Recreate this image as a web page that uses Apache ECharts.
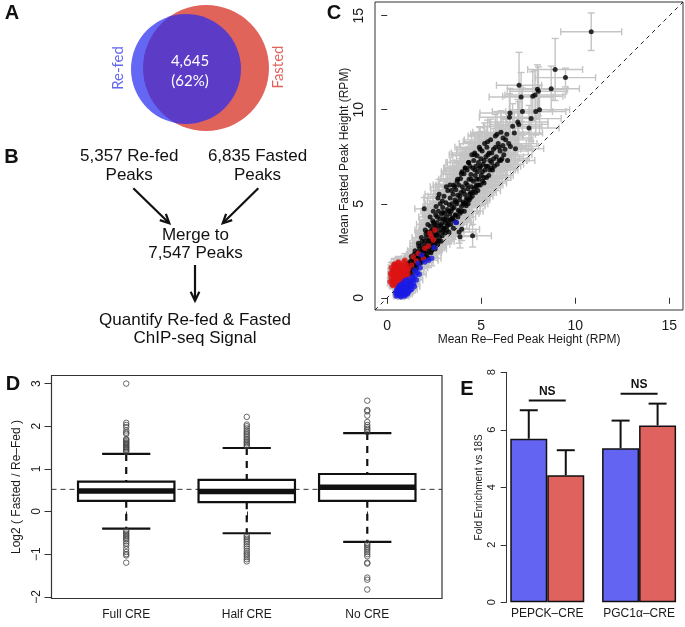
<!DOCTYPE html>
<html><head><meta charset="utf-8">
<script src="https://cdn.jsdelivr.net/npm/echarts@6/dist/echarts.min.js"></script>
<style>html,body{margin:0;padding:0;background:#fff}#c{width:685px;height:627px}</style>
</head><body><div id="c"></div>
<script>
const FONT = '"Liberation Sans", Arial, sans-serif';
const TXT = '#1a1a1a';

// ---- Panel A: Venn ----
const vennSets = ['Re-fed', 'Fasted'];
const vennOverlap = '4,645';
const vennOverlapPct = '(62%)';

// ---- Panel B: flow ----
const flowRefed = '5,357 Re-fed\nPeaks';
const flowFasted = '6,835 Fasted\nPeaks';
const flowMerge = 'Merge to\n7,547 Peaks';
const flowQuant = 'Quantify Re-fed & Fasted\nChIP-seq Signal';

// ---- Panel C: scatter [x, y, xErr, yErr] ----
const blackPts = [
[1.05,1.55,0.25,0.3],[1.15,1.3,0.3,0.25],[1.2,1.75,0.3,0.35],[1.3,1.5,0.35,0.3],[1.35,2.0,0.3,0.4],[1.4,1.65,0.4,0.3],[1.45,1.9,0.35,0.35],[1.5,2.2,0.4,0.4],[1.5,1.45,0.3,0.3],
[1.55,2.05,0.4,0.35],[1.6,2.4,0.45,0.45],[1.62,1.8,0.4,0.3],[1.7,2.25,0.45,0.4],[1.72,2.6,0.5,0.45],[1.75,2.0,0.4,0.35],[1.8,2.45,0.5,0.4],[1.85,2.8,0.5,0.5],[1.88,2.15,0.45,0.35],[1.9,2.6,0.5,0.45],[1.95,2.35,0.5,0.4],[1.97,4.73,0.5,0.6],[2.0,3.0,0.55,0.5],[2.0,2.7,0.5,0.45],
[2.05,2.5,0.5,0.45],[2.08,3.2,0.55,0.55],[2.1,2.85,0.55,0.5],[2.12,2.3,0.5,0.4],[2.15,3.5,0.6,0.6],[2.2,3.05,0.55,0.5],[2.22,2.65,0.55,0.45],[2.25,3.35,0.6,0.55],[2.3,2.9,0.6,0.5],[2.3,3.8,0.6,0.6],[2.35,3.15,0.6,0.55],[2.38,2.55,0.55,0.45],[2.4,3.6,0.65,0.6],[2.42,4.1,0.7,0.65],[2.45,3.0,0.6,0.5],[2.48,3.4,0.65,0.55],[2.5,2.8,0.6,0.5],
[2.52,3.9,0.7,0.6],[2.55,3.3,0.65,0.55],[2.58,4.4,0.7,0.7],[2.6,3.65,0.7,0.6],[2.62,3.05,0.65,0.5],[2.65,4.0,0.7,0.65],[2.7,3.45,0.7,0.55],[2.7,5.3,0.75,0.75],[2.72,4.6,0.75,0.7],[2.75,3.8,0.7,0.6],[2.78,3.2,0.7,0.55],[2.8,4.2,0.75,0.65],[2.82,5.0,0.8,0.75],[2.85,3.6,0.75,0.6],[2.88,4.45,0.8,0.7],[2.9,3.95,0.75,0.65],[2.92,3.3,0.7,0.55],[2.95,4.8,0.8,0.75],[2.98,4.2,0.8,0.65],
[3.0,3.7,0.8,0.6],[3.02,5.4,0.85,0.8],[3.05,4.5,0.8,0.7],[3.08,3.45,0.75,0.55],[3.1,4.0,0.8,0.65],[3.12,5.05,0.85,0.75],[3.15,4.3,0.85,0.7],[3.18,3.8,0.8,0.6],[3.2,4.7,0.85,0.75],[3.22,5.7,0.9,0.85],[3.25,4.1,0.85,0.65],[3.28,3.5,0.8,0.6],[3.3,4.95,0.9,0.75],[3.32,4.45,0.9,0.7],[3.35,5.3,0.9,0.8],[3.38,3.9,0.85,0.65],[3.4,4.6,0.9,0.7],[3.42,5.7,0.95,0.9],[3.45,5.0,0.9,0.75],[3.48,4.25,0.9,0.7],[3.5,5.5,0.95,0.8],
[3.52,3.7,0.85,0.6],[3.55,4.8,0.95,0.75],[3.58,5.9,1.0,0.9],[3.6,5.2,0.95,0.8],[3.62,4.4,0.95,0.7],[3.65,5.75,1.0,0.85],[3.68,4.0,0.9,0.65],[3.7,5.0,1.0,0.75],[3.72,6.2,1.0,0.95],[3.75,5.45,1.0,0.8],[3.78,4.65,1.0,0.7],[3.8,6.0,1.05,0.9],[3.82,3.5,0.9,0.6],[3.85,5.2,1.0,0.8],[3.87,3.25,0.9,0.6],[3.88,4.5,1.0,0.7],[3.9,6.35,1.05,0.9],[3.92,5.6,1.05,0.85],[3.95,4.85,1.0,0.75],[3.96,3.64,0.95,0.6],[3.98,6.7,1.1,1.0],
[4.0,5.9,1.05,0.85],[4.05,5.1,1.05,0.8],[4.08,6.6,1.1,0.95],[4.1,4.6,1.0,0.7],[4.12,5.5,1.1,0.8],[4.15,6.9,1.15,1.0],[4.18,6.1,1.1,0.9],[4.2,4.9,1.0,0.7],[4.22,5.3,1.1,0.8],[4.25,6.8,1.15,0.95],[4.28,5.8,1.1,0.85],[4.3,5.0,1.05,0.75],[4.32,7.2,1.2,1.05],[4.35,6.3,1.15,0.9],[4.38,5.5,1.1,0.85],[4.4,7.0,1.2,1.0],[4.42,5.3,1.05,0.7],[4.45,6.55,1.15,0.95],[4.48,5.9,1.15,0.85],[4.5,7.6,1.2,1.05],
[4.52,5.4,1.1,0.8],[4.54,3.3,1.0,0.6],[4.55,6.9,1.2,1.0],[4.58,6.2,1.2,0.9],[4.6,7.3,1.25,1.0],[4.62,5.8,1.15,0.85],[4.65,7.7,1.25,1.05],[4.68,6.5,1.2,0.95],[4.7,5.6,1.1,0.75],[4.72,7.0,1.25,1.0],[4.75,6.0,1.2,0.9],[4.78,7.55,1.3,1.05],[4.8,6.7,1.25,0.95],[4.82,5.7,1.2,0.8],[4.85,7.2,1.3,1.0],[4.88,6.3,1.25,0.9],[4.9,8.0,1.3,1.1],[4.92,6.9,1.3,0.95],[4.95,6.0,1.2,0.85],[4.98,7.4,1.3,1.0],
[5.0,6.5,1.3,0.95],[5.05,7.8,1.35,1.05],[5.08,6.2,1.25,0.9],[5.1,7.1,1.35,1.0],[5.15,6.1,1.2,0.8],[5.18,8.2,1.35,1.1],[5.2,6.8,1.35,0.95],[5.25,7.5,1.35,1.05],[5.28,6.4,1.3,0.9],[5.3,8.0,1.4,1.1],[5.35,7.0,1.35,1.0],[5.4,6.5,1.3,0.85],[5.42,7.7,1.4,1.05],[5.45,6.8,1.35,0.95],[5.5,8.4,1.4,1.1],
[5.55,7.2,1.4,1.0],[5.6,6.8,1.35,0.9],[5.65,7.9,1.45,1.1],[5.7,7.0,1.4,1.0],[5.75,8.6,1.45,1.15],[5.8,7.5,1.45,1.05],[5.85,7.1,1.4,0.95],[5.9,8.2,1.5,1.1],[5.95,7.3,1.45,1.0],[6.0,7.8,1.5,1.1],[6.05,8.8,1.5,1.15],[6.1,7.4,1.45,1.0],[6.15,8.1,1.5,1.1],[6.2,7.6,1.5,1.05],
[1.1,1.7,0.3,0.35],[1.25,1.95,0.35,0.35],[1.32,1.25,0.3,0.3],[1.42,2.3,0.4,0.4],[1.58,1.6,0.4,0.3],[1.66,2.9,0.45,0.5],[1.78,1.85,0.4,0.35],[1.82,3.2,0.5,0.5],[1.92,2.0,0.45,0.35],[2.02,3.6,0.55,0.55],[2.18,2.1,0.5,0.4],[2.28,4.3,0.6,0.65],[2.33,2.4,0.55,0.4],[2.45,4.6,0.65,0.7],[2.55,2.6,0.6,0.45],[2.6,4.85,0.7,0.7],[2.68,2.85,0.65,0.5],[2.76,5.5,0.75,0.8],[2.86,3.0,0.7,0.5],[2.93,5.15,0.8,0.75],[3.04,3.7,0.75,0.55],[3.14,5.9,0.85,0.85],[3.24,3.9,0.8,0.55],[3.34,6.0,0.9,0.9],[3.44,4.2,0.85,0.6],[3.54,6.0,0.95,0.9],[3.64,4.4,0.9,0.6],[3.74,6.3,1.0,0.95],[3.84,4.6,0.95,0.65],[3.94,6.6,1.05,1.0],[4.04,5.0,1.0,0.7],[4.14,6.9,1.1,1.05],[4.24,5.2,1.05,0.7],[4.34,7.2,1.15,1.1],[4.44,5.6,1.1,0.75],[4.64,7.6,1.2,1.1],[4.74,5.9,1.15,0.8],[4.94,7.9,1.25,1.15],[5.14,6.4,1.25,0.85],[5.34,8.3,1.3,1.15],[5.54,6.9,1.3,0.9],[5.84,8.7,1.4,1.2],[6.04,7.3,1.4,0.95],[6.3,8.4,1.45,1.1],[6.4,7.3,1.45,1.05],
[1.0,1.4,0.28,0.3],[1.12,1.85,0.3,0.35],[1.22,1.45,0.32,0.3],[1.28,2.2,0.35,0.4],[1.38,1.8,0.35,0.35],[1.48,2.5,0.4,0.45],[1.52,1.75,0.38,0.32],[1.64,2.15,0.42,0.38],[1.68,2.75,0.45,0.5],[1.76,2.35,0.45,0.4],[1.84,1.95,0.42,0.35],[1.86,3.0,0.5,0.5],[1.94,2.5,0.48,0.42],[2.04,2.2,0.48,0.4],[2.06,3.4,0.55,0.55],[2.14,2.75,0.52,0.48],[2.16,3.9,0.6,0.6],[2.24,2.45,0.52,0.42],[2.26,3.05,0.58,0.52],[2.34,3.55,0.62,0.58],[2.36,2.75,0.56,0.48],[2.44,3.25,0.62,0.55],[2.46,4.0,0.66,0.62],[2.54,2.95,0.62,0.5],[2.56,3.75,0.66,0.6],[2.64,3.35,0.66,0.55],[2.66,4.3,0.7,0.68],[2.74,3.0,0.66,0.52],[2.84,3.85,0.72,0.62],[2.94,3.5,0.74,0.58],[2.96,4.55,0.78,0.7],[3.06,4.15,0.8,0.66],[3.16,3.6,0.78,0.58],[3.26,4.6,0.84,0.72],[3.36,4.15,0.84,0.66],[3.46,4.75,0.88,0.74],[3.56,4.1,0.88,0.66],[3.66,5.1,0.94,0.78],[3.76,4.3,0.94,0.68],[3.86,5.4,1.0,0.82],[3.96,4.6,0.98,0.72],[4.06,5.7,1.04,0.86],[4.16,5.0,1.04,0.76],[4.26,6.0,1.1,0.88],[4.36,5.2,1.08,0.78],[4.46,6.3,1.14,0.92],[4.56,5.6,1.12,0.82],[4.66,6.8,1.2,0.96],[4.76,6.3,1.18,0.9],[4.86,6.0,1.18,0.86],[4.96,7.0,1.26,0.98],[5.06,6.7,1.26,0.94],[5.16,7.3,1.3,1.0],[5.26,7.0,1.3,0.98],[5.36,7.6,1.34,1.04],[5.46,7.3,1.34,1.0],[5.56,7.7,1.38,1.06],[5.66,7.4,1.38,1.02],[5.76,8.0,1.42,1.1],[5.96,8.0,1.46,1.1],[6.16,8.5,1.5,1.14],[6.26,7.9,1.48,1.08],[6.36,8.7,1.52,1.16],[6.46,8.2,1.5,1.12],
[6.55,8.05,1.5,1.1],[6.82,7.93,1.5,1.1],[6.76,8.76,1.5,1.15],[6.67,9.12,1.55,1.2],[7.54,9.03,1.6,1.2],[6.94,9.35,1.6,1.2],[7.0,9.22,1.55,1.2],[7.65,9.53,1.6,1.2],[6.5,9.6,1.6,1.25],[6.53,9.83,1.6,1.3],[7.19,9.9,1.6,1.25],[7.9,9.9,1.6,1.25],[8.1,10.0,1.6,1.3],[7.12,10.68,1.7,1.3],[7.74,10.72,1.6,1.3],[7.86,10.79,1.6,1.3],[7.99,11.09,1.6,1.3],[8.04,10.98,1.5,1.3],[8.72,11.12,1.5,1.2],[7.01,11.3,1.2,1.75],[9.48,11.71,1.6,0.5],[8.93,12.14,1.46,1.65],[10.85,14.15,1.62,1.0]
];
const redPts = [
[0.25,0.9,0.15,0.2],[0.3,1.2,0.15,0.25],[0.3,0.65,0.12,0.18],[0.35,1.5,0.2,0.3],[0.38,1.0,0.15,0.2],[0.4,1.8,0.2,0.3],[0.42,0.75,0.15,0.2],[0.45,1.3,0.2,0.25],[0.48,1.6,0.2,0.3],[0.5,1.05,0.18,0.22],[0.52,0.55,0.15,0.18],[0.55,1.4,0.2,0.28],[0.58,1.85,0.22,0.3],[0.6,0.85,0.18,0.2],[0.62,1.2,0.2,0.25],[0.65,1.6,0.22,0.3],[0.68,1.0,0.2,0.22],[0.7,1.35,0.22,0.25],[0.72,0.7,0.2,0.2],[0.75,1.7,0.25,0.3],[0.78,1.15,0.22,0.25],[0.8,1.5,0.25,0.28],[0.82,0.9,0.22,0.22],[0.85,1.25,0.25,0.25],[0.88,1.9,0.28,0.32],[0.9,1.05,0.25,0.22],[0.92,1.6,0.28,0.3],[0.95,1.35,0.28,0.28],[1.0,1.15,0.3,0.25],[1.02,1.75,0.3,0.3],[1.05,1.45,0.3,0.28],[1.1,1.3,0.3,0.28],[0.2,1.1,0.15,0.22],[0.28,1.45,0.15,0.28],[0.35,1.75,0.2,0.3],[0.45,0.95,0.15,0.2],[0.55,1.1,0.18,0.22],[0.65,0.6,0.18,0.18],
[0.15,0.85,0.12,0.2],[0.18,1.3,0.14,0.25],[0.22,1.6,0.16,0.28],[0.26,0.7,0.14,0.18],[0.32,1.35,0.16,0.25],[0.36,0.85,0.15,0.2],[0.4,1.15,0.17,0.22],[0.42,1.55,0.18,0.28],[0.46,1.75,0.2,0.3],[0.5,0.75,0.16,0.2],[0.52,1.25,0.18,0.24],[0.56,1.6,0.2,0.28],[0.6,1.0,0.18,0.22],[0.62,1.45,0.2,0.26],[0.66,1.8,0.22,0.3],[0.7,1.15,0.2,0.24],[0.74,1.45,0.22,0.26],[0.76,0.95,0.2,0.22],[0.8,1.3,0.22,0.25],[0.84,1.7,0.25,0.3],[0.86,1.05,0.22,0.22],[0.9,1.45,0.25,0.27],[0.96,1.8,0.28,0.3],[0.98,1.2,0.26,0.25],[1.04,1.6,0.28,0.28],[1.08,1.15,0.28,0.25],[1.14,1.55,0.3,0.28],[0.34,1.05,0.15,0.2],[0.44,1.1,0.16,0.22],[0.54,0.9,0.16,0.2],[0.64,1.3,0.2,0.25],[0.72,1.55,0.22,0.28],[0.24,1.25,0.14,0.24],[0.38,1.65,0.18,0.28],
[0.59,1.9,0.22,0.3],[0.94,2.0,0.3,0.35],[1.3,1.74,0.35,0.3],[1.38,2.18,0.4,0.4],[1.65,2.36,0.45,0.4],[1.92,2.08,0.45,0.4],[2.0,2.63,0.5,0.45],[2.18,2.75,0.55,0.5],[2.27,3.43,0.6,0.55],[2.45,3.07,0.6,0.5],[2.54,3.6,0.65,0.6],[1.55,1.95,0.4,0.35],[2.35,3.25,0.6,0.55]
];
const bluePts = [
[0.45,0.25,0.15,0.15],[0.5,0.4,0.15,0.18],[0.55,0.15,0.15,0.12],[0.6,0.55,0.18,0.18],[0.62,0.3,0.18,0.15],[0.68,0.1,0.18,0.12],[0.7,0.45,0.2,0.18],[0.75,0.7,0.2,0.2],[0.78,0.25,0.2,0.15],[0.82,0.55,0.22,0.18],[0.85,0.15,0.2,0.12],[0.88,0.85,0.22,0.22],[0.9,0.4,0.22,0.18],[0.95,0.65,0.25,0.2],[0.98,0.2,0.22,0.15],[1.0,0.95,0.25,0.22],[1.05,0.5,0.25,0.18],[1.1,0.75,0.28,0.2],[1.12,0.3,0.25,0.15],[1.18,1.0,0.3,0.22],[1.2,0.6,0.28,0.2],[1.25,0.85,0.3,0.22],[1.3,0.45,0.3,0.18],[1.35,1.1,0.3,0.25],[1.4,0.75,0.3,0.2],[1.47,1.47,0.35,0.3],[1.5,1.2,0.35,0.25],[1.6,1.35,0.35,0.28],[1.65,1.83,0.4,0.35],[1.83,2.27,0.4,0.4],[1.75,1.6,0.4,0.3],[2.0,1.9,0.45,0.35],[2.2,2.0,0.5,0.4],[2.36,2.1,0.5,0.4],[2.5,2.68,0.55,0.45],[3.66,4.0,0.8,0.6],
[0.48,0.1,0.14,0.12],[0.52,0.3,0.15,0.15],[0.58,0.45,0.16,0.17],[0.64,0.2,0.17,0.14],[0.66,0.65,0.18,0.2],[0.72,0.35,0.19,0.16],[0.74,0.05,0.18,0.12],[0.8,0.4,0.2,0.17],[0.84,0.7,0.22,0.2],[0.86,0.3,0.21,0.16],[0.92,0.55,0.23,0.18],[0.94,0.1,0.21,0.13],[1.0,0.35,0.24,0.17],[1.02,0.75,0.25,0.2],[1.08,0.2,0.25,0.15],[1.14,0.55,0.27,0.18],[1.16,0.85,0.28,0.21],[1.22,0.4,0.27,0.17],[1.28,0.65,0.29,0.2],[1.34,0.9,0.3,0.22],[1.42,1.0,0.32,0.23],[1.44,0.6,0.3,0.2],[1.55,0.95,0.34,0.24],[1.7,1.25,0.37,0.27]
];
const scatterTicks = [0, 5, 10, 15];
const scatterMin = -0.65, scatterMax = 15.73;

// ---- Panel D: boxplots [low whisker, Q1, median, Q3, high whisker] ----
const boxCats = ['Full CRE', 'Half CRE', 'No CRE'];
const boxStats = [
  [-0.40, 0.25, 0.48, 0.70, 1.35],
  [-0.51, 0.22, 0.47, 0.74, 1.49],
  [-0.71, 0.25, 0.57, 0.88, 1.84]
];
const outFull = [1.40,1.43,1.45,1.48,1.50,1.52,1.55,1.58,1.60,1.62,1.65,1.68,1.70,1.82,1.85,1.90,1.98,2.03,2.08,3.00,
  -0.45,-0.48,-0.52,-0.55,-0.58,-0.62,-0.65,-0.70,-0.75,-0.80,-0.88,-0.95,-1.00,-1.03,-1.20];
const outHalf = [1.53,1.56,1.60,1.63,1.67,1.70,1.74,1.78,1.82,1.86,1.90,1.95,2.00,2.04,2.22,
  -0.56,-0.60,-0.64,-0.68,-0.72,-0.77,-0.82,-0.87,-0.93,-0.98,-1.02,-1.07,-1.12,-1.17];
const outNo = [1.86,1.90,1.94,1.98,2.03,2.10,2.25,2.35,2.38,2.60,
  -0.75,-0.78,-0.82,-0.86,-0.90,-0.95,-1.00,-1.05,-1.20,-1.22,-1.55,-1.60,-1.83];
const boxRef = 0.52;
const boxYTicks = [-2, -1, 0, 1, 2, 3];

// ---- Panel E: bars ----
const barCats = ['PEPCK\u2013CRE', 'PGC1\u03b1\u2013CRE'];
const refedMean = [5.69, 5.36];
const refedSE = [0.99, 0.96];
const fastedMean = [4.42, 6.15];
const fastedSE = [0.87, 0.76];
const sigLabels = ['NS', 'NS'];

// ---------------------------------------------------------------
const chart = echarts.init(document.getElementById('c'), null, {renderer: 'canvas'});
const allPts = blackPts.concat(redPts, bluePts);
const outData = [].concat(outFull.map(v => [1, v]), outHalf.map(v => [2, v]), outNo.map(v => [3, v]));
const minusFmt = v => (v < 0 ? '\u2212' + (-v) : String(v));

function renderErr(params, api) {
  const x = api.value(0), y = api.value(1), ex = api.value(2), ey = api.value(3);
  const l = api.coord([x - ex, y]), r = api.coord([x + ex, y]);
  const b = api.coord([x, y - ey]), t = api.coord([x, y + ey]);
  const c = 3.5, st = {stroke: '#c4c4c4', lineWidth: 1.4};
  return {type: 'group', children: [
    {type: 'line', shape: {x1: l[0], y1: l[1], x2: r[0], y2: r[1]}, style: st},
    {type: 'line', shape: {x1: b[0], y1: b[1], x2: t[0], y2: t[1]}, style: st},
    {type: 'line', shape: {x1: l[0], y1: l[1] - c, x2: l[0], y2: l[1] + c}, style: st},
    {type: 'line', shape: {x1: r[0], y1: r[1] - c, x2: r[0], y2: r[1] + c}, style: st},
    {type: 'line', shape: {x1: b[0] - c, y1: b[1], x2: b[0] + c, y2: b[1]}, style: st},
    {type: 'line', shape: {x1: t[0] - c, y1: t[1], x2: t[0] + c, y2: t[1]}, style: st}
  ]};
}

function renderBox(params, api) {
  const i = api.value(0);
  const lo = api.value(1), q1 = api.value(2), md = api.value(3), q3 = api.value(4), hi = api.value(5);
  const hw = api.size([0.8, 0])[0] / 2, cw = hw / 2;
  const cx = api.coord([i, 0])[0];
  const y = v => api.coord([i, v])[1];
  const k = '#111';
  const dash = {stroke: k, lineWidth: 2.2, lineDash: [7, 6]};
  const solid = {stroke: k, lineWidth: 2.2};
  return {type: 'group', children: [
    {type: 'line', shape: {x1: cx, y1: y(hi), x2: cx, y2: y(q3)}, style: dash},
    {type: 'line', shape: {x1: cx, y1: y(q1), x2: cx, y2: y(lo)}, style: dash},
    {type: 'line', shape: {x1: cx - cw, y1: y(hi), x2: cx + cw, y2: y(hi)}, style: solid},
    {type: 'line', shape: {x1: cx - cw, y1: y(lo), x2: cx + cw, y2: y(lo)}, style: solid},
    {type: 'rect', shape: {x: cx - hw, y: y(q3), width: 2 * hw, height: y(q1) - y(q3)}, style: {fill: '#fff', stroke: k, lineWidth: 2.2}},
    {type: 'line', shape: {x1: cx - hw, y1: y(md), x2: cx + hw, y2: y(md)}, style: {stroke: k, lineWidth: 5.5}}
  ]};
}

const BAR_W = 37;
function renderBarErr(params, api) {
  const i = api.value(0), m = api.value(1), se = api.value(2), side = api.value(3);
  const base = api.coord([i, m]), top = api.coord([i, m + se]);
  const x = base[0] + side * BAR_W / 2, c = 9;
  const st = {stroke: '#111', lineWidth: 2};
  return {type: 'group', children: [
    {type: 'line', shape: {x1: x, y1: base[1], x2: x, y2: top[1]}, style: st},
    {type: 'line', shape: {x1: x - c, y1: top[1], x2: x + c, y2: top[1]}, style: st}
  ]};
}
function renderSig(params, api) {
  const i = api.value(0), h = api.value(1);
  const p = api.coord([i, h]);
  return {type: 'group', children: [
    {type: 'line', shape: {x1: p[0] - BAR_W / 2, y1: p[1], x2: p[0] + BAR_W / 2, y2: p[1]}, style: {stroke: '#111', lineWidth: 2}},
    {type: 'text', style: {text: sigLabels[params.dataIndex], x: p[0], y: p[1] - 3, align: 'center', verticalAlign: 'bottom',
      fontFamily: FONT, fontWeight: 'bold', fontSize: 12, fill: '#111'}}
  ]};
}

function arrow(x1, y1, x2, y2) {
  const a = Math.atan2(y2 - y1, x2 - x1), L = 10, s = 0.45;
  const st = {stroke: '#111', lineWidth: 2.2, fill: null};
  return [
    {type: 'line', shape: {x1, y1, x2, y2}, style: st},
    {type: 'polyline', shape: {points: [[x2 - L * Math.cos(a - s), y2 - L * Math.sin(a - s)], [x2, y2],
      [x2 - L * Math.cos(a + s), y2 - L * Math.sin(a + s)]]}, style: st}
  ];
}
function letter(t, x, y) {
  return {type: 'text', x, y, style: {text: t, fontFamily: FONT, fontWeight: 'bold', fontSize: 20, fill: '#111', align: 'center', verticalAlign: 'middle'}};
}
function flowText(t, x, y) {
  return {type: 'text', x, y, style: {text: t, fontFamily: FONT, fontSize: 17, lineHeight: 18.5, fill: '#111', align: 'center', verticalAlign: 'middle'}};
}

const axisTxt = {color: TXT, fontFamily: FONT};
const option = {
  animation: false,
  backgroundColor: '#fff',
  grid: [
    {left: 375, top: 2, width: 308, height: 308, show: true, borderColor: '#333', borderWidth: 1},
    {left: 51.5, top: 375.5, width: 390.5, height: 223, show: true, borderColor: '#333', borderWidth: 1.2},
    {left: 501.35, top: 372.3, width: 190.6, height: 230}
  ],
  xAxis: [
    {gridIndex: 0, type: 'value', min: scatterMin, max: scatterMax,
      axisLine: {show: false}, splitLine: {show: false},
      axisTick: {show: true, customValues: scatterTicks, length: 6, lineStyle: {color: '#333'}},
      axisLabel: Object.assign({customValues: scatterTicks, fontSize: 14, margin: 9}, axisTxt),
      name: 'Mean Re\u2013Fed Peak Height (RPM)', nameLocation: 'middle', nameGap: 24,
      nameTextStyle: Object.assign({fontSize: 12}, axisTxt)},
    {gridIndex: 1, type: 'value', min: 0.38, max: 3.62,
      axisLine: {show: false}, splitLine: {show: false},
      axisTick: {show: true, customValues: [1, 2, 3], length: 7, lineStyle: {color: '#333'}},
      axisLabel: Object.assign({customValues: [1, 2, 3], fontSize: 12, margin: 10,
        formatter: v => boxCats[Math.round(v) - 1]}, axisTxt)},
    {gridIndex: 2, type: 'category', data: barCats,
      axisLine: {show: false}, axisTick: {show: false},
      axisLabel: Object.assign({fontSize: 12, margin: 5, interval: 0, hideOverlap: false}, axisTxt)}
  ],
  yAxis: [
    {gridIndex: 0, type: 'value', min: scatterMin, max: scatterMax,
      axisLine: {show: false}, splitLine: {show: false},
      axisTick: {show: true, customValues: scatterTicks, length: 6, lineStyle: {color: '#333'}},
      axisLabel: Object.assign({customValues: scatterTicks, fontSize: 14, margin: 9, rotate: 90}, axisTxt),
      name: 'Mean Fasted Peak Height (RPM)', nameLocation: 'middle', nameGap: 24,
      nameTextStyle: Object.assign({fontSize: 12}, axisTxt)},
    {gridIndex: 1, type: 'value', min: -2.04, max: 3.19,
      axisLine: {show: false}, splitLine: {show: false},
      axisTick: {show: true, customValues: boxYTicks, length: 7, lineStyle: {color: '#333'}},
      axisLabel: Object.assign({customValues: boxYTicks, fontSize: 12, margin: 9, rotate: 90, formatter: minusFmt}, axisTxt),
      name: 'Log2 ( Fasted / Re\u2013Fed )', nameLocation: 'middle', nameGap: 21,
      nameTextStyle: Object.assign({fontSize: 12}, axisTxt)},
    {gridIndex: 2, type: 'value', min: 0, max: 8, interval: 2, offset: -5.35,
      axisLine: {show: true, lineStyle: {color: '#333', width: 1}}, splitLine: {show: false},
      axisTick: {show: true, length: 6, lineStyle: {color: '#333'}},
      axisLabel: Object.assign({fontSize: 11, margin: 9, rotate: 90}, axisTxt),
      name: 'Fold Enrichment vs 18S', nameLocation: 'middle', nameGap: 22,
      nameTextStyle: Object.assign({fontSize: 10}, axisTxt)}
  ],
  series: [
    {type: 'custom', xAxisIndex: 0, yAxisIndex: 0, data: allPts, renderItem: renderErr, silent: true, z: 1},
    {type: 'line', xAxisIndex: 0, yAxisIndex: 0, data: [[scatterMin, scatterMin], [scatterMax, scatterMax]],
      symbol: 'none', silent: true, z: 2, lineStyle: {color: '#222', width: 1, type: [4, 4]}},
    {type: 'scatter', xAxisIndex: 0, yAxisIndex: 0, data: blackPts.map(p => [p[0], p[1]]), symbolSize: 5,
      itemStyle: {color: '#000'}, silent: true, z: 3},
    {type: 'scatter', xAxisIndex: 0, yAxisIndex: 0, data: redPts.map(p => [p[0], p[1]]), symbolSize: 5.5,
      itemStyle: {color: '#dc1414'}, silent: true, z: 4},
    {type: 'scatter', xAxisIndex: 0, yAxisIndex: 0, data: bluePts.map(p => [p[0], p[1]]), symbolSize: 5.5,
      itemStyle: {color: '#1a1ae6'}, silent: true, z: 5},

    {type: 'line', xAxisIndex: 1, yAxisIndex: 1, data: [[0.38, boxRef], [3.62, boxRef]], symbol: 'none', silent: true, z: 1,
      lineStyle: {color: '#333', width: 1, type: [5, 4]}},
    {type: 'custom', xAxisIndex: 1, yAxisIndex: 1, data: boxStats.map((s, i) => [i + 1].concat(s)), renderItem: renderBox, silent: true, z: 2},
    {type: 'scatter', xAxisIndex: 1, yAxisIndex: 1, data: outData, symbol: 'circle', symbolSize: 5.5, silent: true, z: 3,
      itemStyle: {color: 'rgba(0,0,0,0)', borderColor: '#444', borderWidth: 1}},

    {type: 'bar', name: 'Re-fed', xAxisIndex: 2, yAxisIndex: 2, data: refedMean, barWidth: BAR_W, barGap: '0%', silent: true,
      itemStyle: {color: '#6464f2', borderColor: '#111', borderWidth: 1.5}},
    {type: 'bar', name: 'Fasted', xAxisIndex: 2, yAxisIndex: 2, data: fastedMean, barWidth: BAR_W, barGap: '0%', silent: true,
      itemStyle: {color: '#e0625e', borderColor: '#111', borderWidth: 1.5}},
    {type: 'custom', xAxisIndex: 2, yAxisIndex: 2, silent: true, z: 3, renderItem: renderBarErr,
      data: refedMean.map((m, i) => [i, m, refedSE[i], -1]).concat(fastedMean.map((m, i) => [i, m, fastedSE[i], 1]))},
    {type: 'custom', xAxisIndex: 2, yAxisIndex: 2, silent: true, z: 3, renderItem: renderSig,
      data: sigLabels.map((s, i) => [i, Math.max(refedMean[i] + refedSE[i], fastedMean[i] + fastedSE[i]) + 0.34])}
  ],
  graphic: [
    letter('A', 12, 13), letter('B', 11.5, 157), letter('C', 334, 13), letter('D', 13, 384.5), letter('E', 467, 389),
    {type: 'circle', shape: {cx: 206, cy: 68, r: 63}, style: {fill: '#e0645a'}},
    {type: 'circle', shape: {cx: 186, cy: 69, r: 55}, style: {fill: 'rgba(40,45,240,0.72)'}},
    {type: 'text', x: 190, y: 71.3, style: {text: vennOverlap + '\n' + vennOverlapPct, fontFamily: 'Lato, sans-serif', fontSize: 15,
      lineHeight: 20.7, fill: '#fff', align: 'center', verticalAlign: 'middle'}},
    {type: 'text', x: 118, y: 68, rotation: Math.PI / 2, style: {text: vennSets[0], fontFamily: 'Lato, sans-serif', fontSize: 15,
      fill: '#6266f0', align: 'center', verticalAlign: 'middle'}},
    {type: 'text', x: 278, y: 67, rotation: Math.PI / 2, style: {text: vennSets[1], fontFamily: 'Lato, sans-serif', fontSize: 15,
      fill: '#e0645a', align: 'center', verticalAlign: 'middle'}},
    flowText(flowRefed, 129.2, 165.9), flowText(flowFasted, 257.5, 165.9),
    flowText(flowMerge, 195.5, 244.2), flowText(flowQuant, 195, 329.3)
  ].concat(arrow(133.3, 188.3, 169.3, 223.3), arrow(258.3, 188.3, 222.7, 223.3), arrow(195, 265, 195, 300.7))
};
chart.setOption(option);
</script>
</body></html>
